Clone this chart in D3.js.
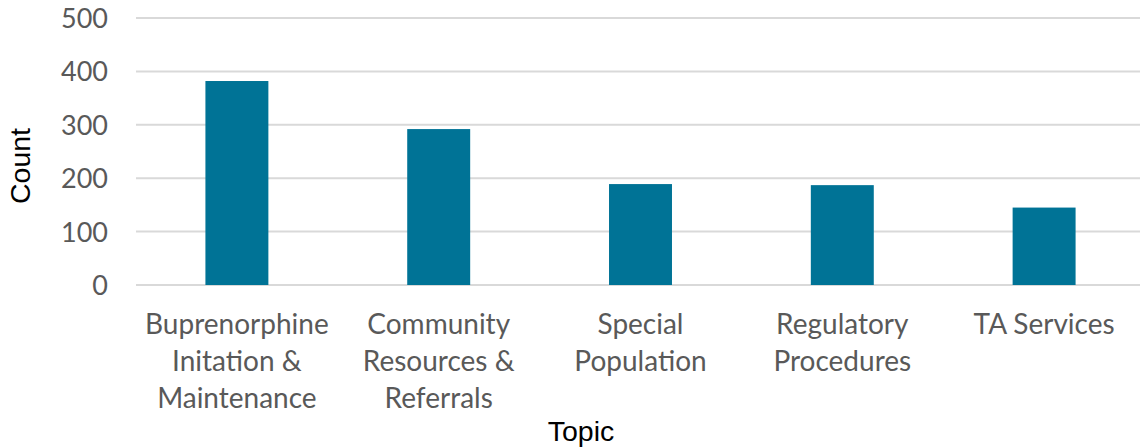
<!DOCTYPE html>
<html><head><meta charset="utf-8">
<script src="https://cdn.jsdelivr.net/npm/d3@7"></script>
<style>body{margin:0;background:#fff;}svg{display:block;}</style>
</head><body>
<script>
const categories = [
  ["Buprenorphine","Initation &","Maintenance"],
  ["Community","Resources &","Referrals"],
  ["Special","Population"],
  ["Regulatory","Procedures"],
  ["TA Services"]
];
const categoryKeys = ["Buprenorphine Initation & Maintenance","Community Resources & Referrals","Special Population","Regulatory Procedures","TA Services"];
const values = [382, 292, 189, 187, 145];
const yTicks = [0, 100, 200, 300, 400, 500];

const W = 1140, H = 448;
const svg = d3.select("body").append("svg").attr("width", W).attr("height", H);
const x = d3.scaleBand().domain(categoryKeys).range([136, 1145]).paddingInner(0.688).paddingOuter(0.344);
const y = d3.scaleLinear().domain([0, 500]).range([285, 18]);

// gridlines
svg.append("g").selectAll("line").data(yTicks).join("line")
  .attr("x1", 136).attr("x2", W)
  .attr("y1", d => y(d)).attr("y2", d => y(d))
  .attr("stroke", "#d9d9d9").attr("stroke-width", 2);

// y axis labels
const yAxis = d3.axisLeft(y).tickValues(yTicks).tickSize(0).tickPadding(0);
const yg = svg.append("g").attr("transform", "translate(108,0)").call(yAxis);
yg.select(".domain").remove();
yg.selectAll("text").attr("font-family", "Lato, 'Open Sans', sans-serif").attr("font-size", 27).attr("fill", "#595959").attr("dy", "0.35em");

// bars
svg.append("g").selectAll("rect").data(values).join("rect")
  .attr("x", (d, i) => x(categoryKeys[i]))
  .attr("width", x.bandwidth())
  .attr("y", d => y(d))
  .attr("height", d => y(0) - y(d))
  .attr("fill", "#007396");

// x labels
const xg = svg.append("g");
categories.forEach((lines, i) => {
  const cx = x(categoryKeys[i]) + x.bandwidth() / 2;
  const t = xg.append("text")
    .attr("x", cx)
    .attr("y", 334)
    .attr("text-anchor", "middle")
    .attr("font-family", "Lato, 'Open Sans', sans-serif")
    .attr("font-size", 28)
    .attr("fill", "#595959");
  lines.forEach((l, j) => t.append("tspan").attr("x", cx).attr("dy", j === 0 ? 0 : 37).text(l));
});

// axis titles
svg.append("text").attr("transform", "translate(30,166) rotate(-90)")
  .attr("text-anchor", "middle").attr("font-family", "'Liberation Sans', Arial, sans-serif")
  .attr("font-size", 28.5).attr("fill", "#000").text("Count");
svg.append("text").attr("x", 581).attr("y", 441)
  .attr("text-anchor", "middle").attr("font-family", "'Liberation Sans', Arial, sans-serif")
  .attr("font-size", 28.5).attr("fill", "#000").text("Topic");
</script>
</body></html>
